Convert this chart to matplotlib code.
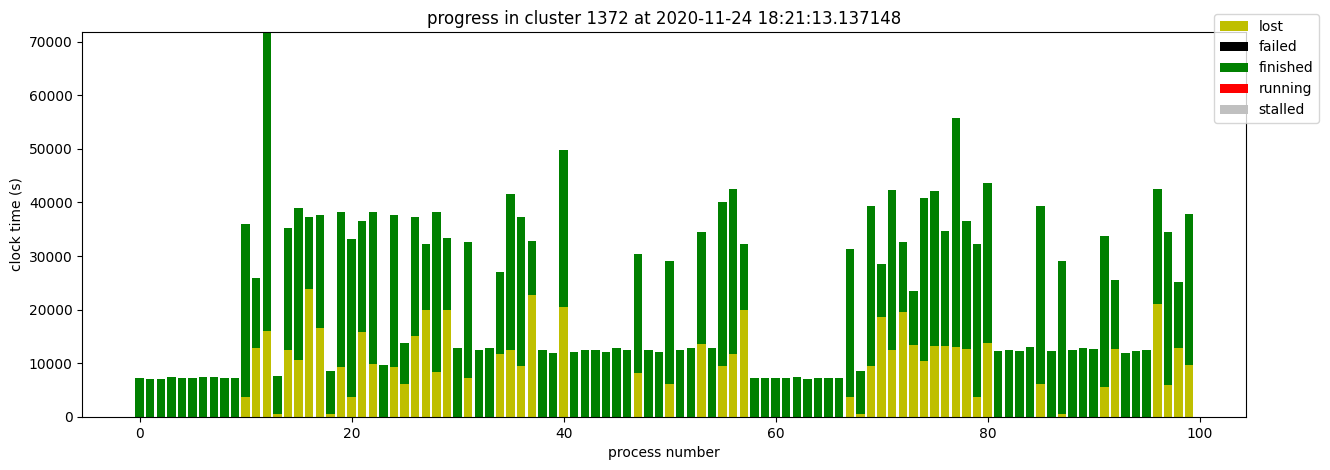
import numpy as np
import matplotlib
matplotlib.use('Agg')
import matplotlib.pyplot as plt

# 进程编号
processes = np.arange(100)

# 各状态耗时（秒）
total = [7300, 7100, 7100, 7400, 7300, 7300, 7400, 7400, 7300, 7300,
         36000, 26000, 72000, 7600, 35300, 39000, 37300, 37600, 8500, 38300,
         33100, 36500, 38200, 9600, 37600, 13700, 37200, 32300, 38300, 33300,
         12800, 32600, 12400, 12900, 27000, 41500, 37200, 32800, 12400, 11900,
         49700, 12100, 12400, 12400, 12100, 12800, 12400, 30300, 12400, 12100,
         29000, 12400, 12800, 34400, 12800, 40000, 42600, 32300, 7300, 7300,
         7300, 7300, 7400, 7100, 7300, 7300, 7300, 31400, 8500, 39400,
         28500, 42300, 32700, 23400, 40900, 42200, 34600, 55800, 36500, 32300,
         43700, 12200, 12400, 12200, 13000, 39400, 12200, 29000, 12400, 12800,
         12600, 33800, 25600, 11900, 12200, 12400, 42600, 34400, 25100, 37900]

lost = [0, 0, 0, 0, 0, 0, 0, 0, 0, 0,
        3800, 12900, 16000, 500, 12400, 10600, 23800, 16500, 500, 9300,
        3800, 15900, 9900, 0, 9300, 6200, 15000, 19900, 8300, 20000,
        0, 7300, 0, 0, 11800, 12500, 9500, 22700, 0, 0,
        20500, 0, 0, 0, 0, 0, 0, 8200, 0, 0,
        6100, 0, 0, 13600, 0, 9500, 11700, 19900, 0, 0,
        0, 0, 0, 0, 0, 0, 0, 3800, 500, 9400,
        18600, 12400, 19500, 13400, 10400, 13200, 13300, 13000, 12600, 3800,
        13700, 0, 0, 0, 0, 6100, 0, 500, 0, 0,
        0, 5600, 12600, 0, 0, 0, 21000, 5900, 12800, 9600]

lost = np.array(lost)
finished = np.array(total) - lost
failed = np.zeros(100)
running = np.zeros(100)
stalled = np.zeros(100)

fig, ax = plt.subplots(figsize=(13.3, 4.7), dpi=100)
fig.subplots_adjust(left=0.062, right=0.937, top=0.932, bottom=0.113)

bottom = np.zeros(100)
for vals, name, color in [(lost, 'lost', 'y'), (failed, 'failed', 'k'),
                          (finished, 'finished', 'g'), (running, 'running', 'r'),
                          (stalled, 'stalled', 'silver')]:
    ax.bar(processes, vals, bottom=bottom, color=color, label=name)
    bottom = bottom + vals

ax.set_ylim(0, 71800)
ax.set_title('progress in cluster 1372 at 2020-11-24 18:21:13.137148', fontsize=12)
ax.set_xlabel('process number')
ax.set_ylabel('clock time (s)')
fig.legend(loc='upper right', bbox_to_anchor=(0.997, 0.985))

fig.savefig('out.png')
